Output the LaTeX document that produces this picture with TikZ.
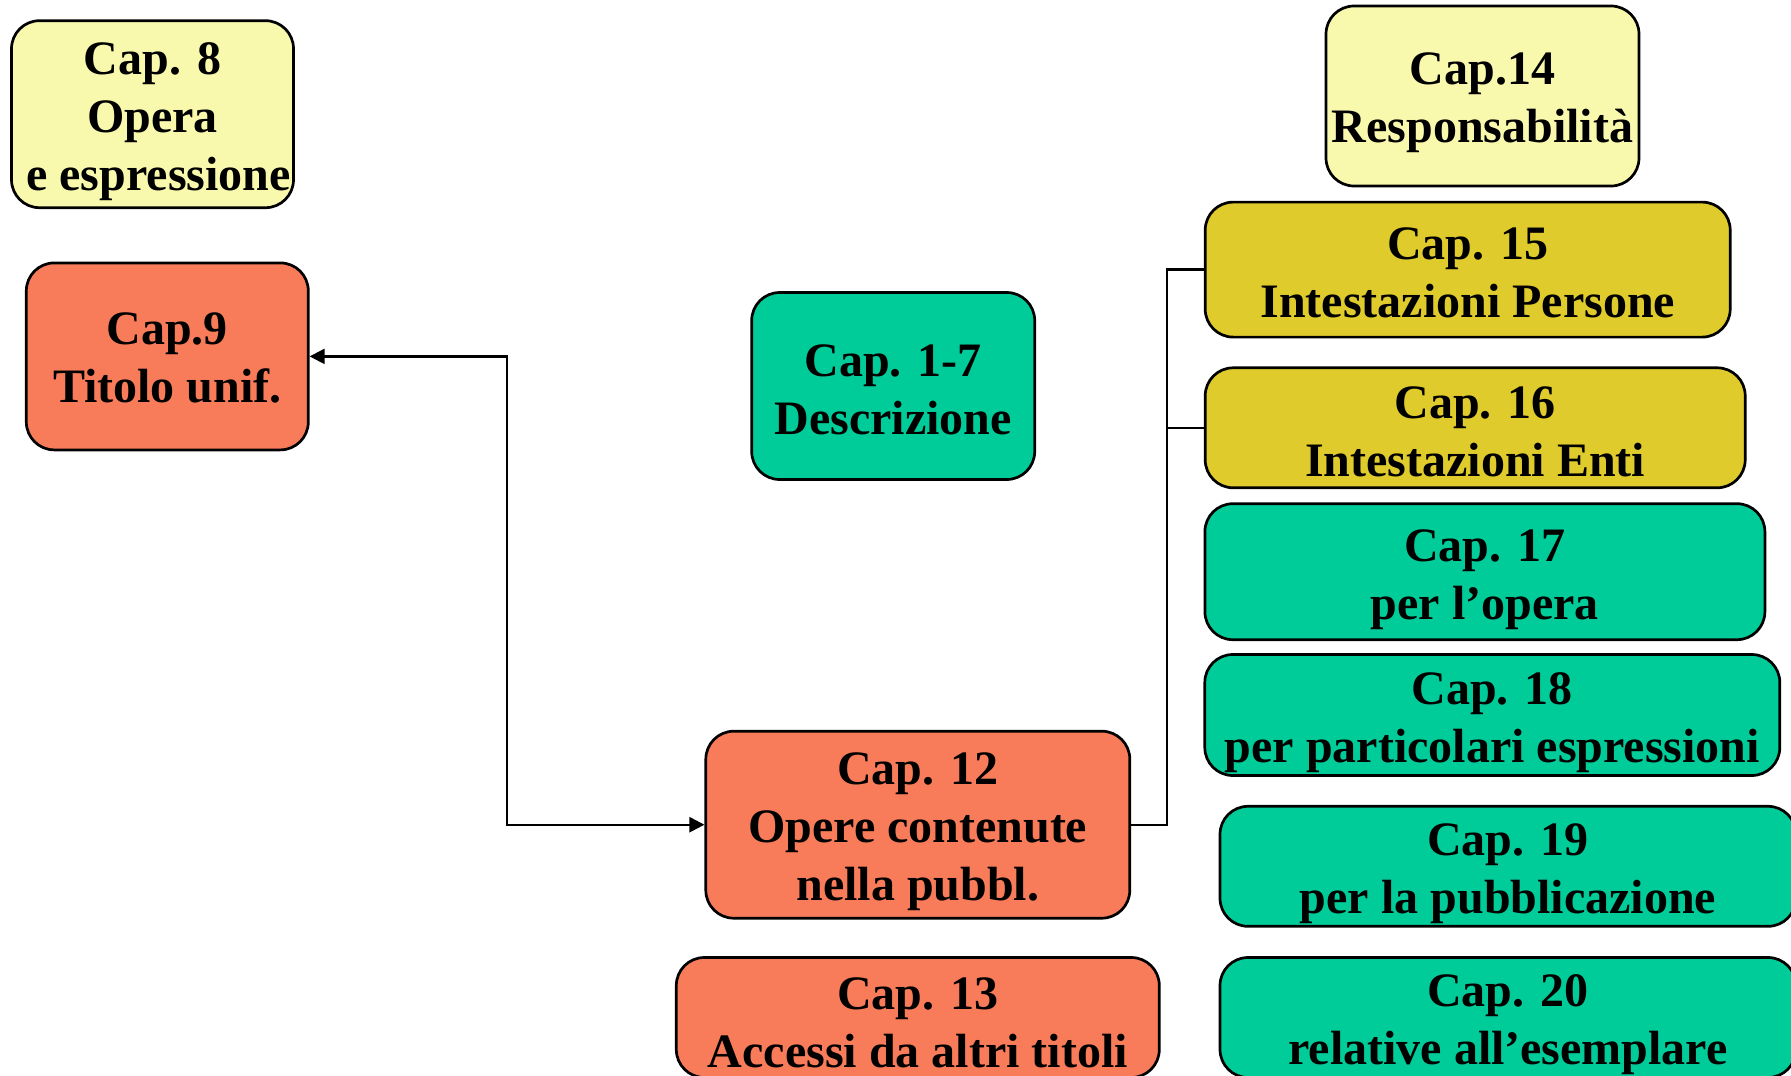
\documentclass[tikz,border=0pt]{standalone}
\usepackage{fontspec}
\setmainfont{Liberation Serif}
\usetikzlibrary{arrows.meta}
\definecolor{cream}{HTML}{F9F9AE}
\definecolor{coral}{HTML}{F97C5A}
\definecolor{mustard}{HTML}{DFCB2C}
\definecolor{teal}{HTML}{00CC99}
\begin{document}
\begin{tikzpicture}[x=1pt,y=-1pt,
  box/.style={draw=black, line width=2.7pt, rounded corners=28pt, inner sep=0pt},
  txt/.style={inner sep=0pt, align=center, font=\bfseries\fontsize{48}{58}\selectfont},
  link/.style={draw=black, line width=2.3pt},
  tip/.style={{Triangle[length=15pt,width=15pt]}-{Triangle[length=15pt,width=15pt]}}]
\useasboundingbox (0,0) rectangle (1791,1076);
\clip (0,0) rectangle (1791,1076);

% boxes: left column
\node[box, fill=cream, minimum width=282pt, minimum height=187pt] (c8) at (152.5,114.2) {};
\node[box, fill=coral, minimum width=282pt, minimum height=187pt] (c9) at (167.3,356.4) {};
% middle column
\node[box, fill=teal, minimum width=283pt, minimum height=187pt] (c1) at (893.2,386) {};
\node[box, fill=coral, minimum width=424pt, minimum height=187pt] (c12) at (917.8,824.7) {};
\node[box, fill=coral, minimum width=483pt, minimum height=120pt] (c13) at (917.8,1017.5) {};
% right column
\node[box, fill=cream, minimum width=313pt, minimum height=180pt] (c14) at (1482.5,96) {};
\node[box, fill=mustard, minimum width=525pt, minimum height=135pt] (c15) at (1467.7,269.6) {};
\node[box, fill=mustard, minimum width=540pt, minimum height=120pt] (c16) at (1475.2,427.8) {};
\node[box, fill=teal, minimum width=560pt, minimum height=136pt] (c17) at (1484.9,571.7) {};
\node[box, fill=teal, minimum width=575pt, minimum height=121pt] (c18) at (1492.3,715) {};
\node[box, fill=teal, minimum width=576pt, minimum height=120pt] (c19) at (1508,866.3) {};
\node[box, fill=teal, minimum width=576pt, minimum height=120pt] (c20) at (1508,1017.5) {};

% labels, set a little below each box centre
\node[txt] (t8) at ([yshift=-7pt]c8.center) {Cap. 8\\Opera\\\kern12pt e espressione};
\node[txt] (t9) at ([yshift=-2pt]c9.center) {Cap.9\\Titolo unif.};
\node[txt] (t1) at ([yshift=-4pt]c1.center) {Cap. 1-7\\Descrizione};
\node[txt] (t12) at ([yshift=-7pt]c12.center) {Cap. 12\\Opere contenute\\nella pubbl.};
\node[txt] (t13) at ([yshift=-5pt]c13.center) {Cap. 13\\Accessi da altri titoli};
\node[txt] (t14) at ([yshift=-7pt]c14.center) {Cap.14\\Responsabilità};
\node[txt] (t15) at ([yshift=-3pt]c15.center) {Cap. 15\\Intestazioni Persone};
\node[txt] (t16) at ([yshift=-4pt]c16.center) {Cap. 16\\Intestazioni Enti};
\node[txt] (t17) at ([yshift=-8pt]c17.center) {Cap. 17\\per l’opera};
\node[txt] (t18) at ([yshift=-8pt]c18.center) {Cap. 18\\per particolari espressioni};
\node[txt] (t19) at ([yshift=-7pt]c19.center) {Cap. 19\\per la pubblicazione};
\node[txt] (t20) at ([yshift=-7pt]c20.center) {Cap. 20\\relative all’esemplare};

% connectors
\coordinate (ljoint) at (507,0);
\coordinate (rjoint) at (1167.3,0);
\draw[link, tip] (c9.east) -- (c9.east -| ljoint) |- (c12.west);
\draw[link] (c12.east) -- (c12.east -| rjoint) |- (c15.west);
\draw[link] (c16.west -| rjoint) -- (c16.west);
\end{tikzpicture}
\end{document}
